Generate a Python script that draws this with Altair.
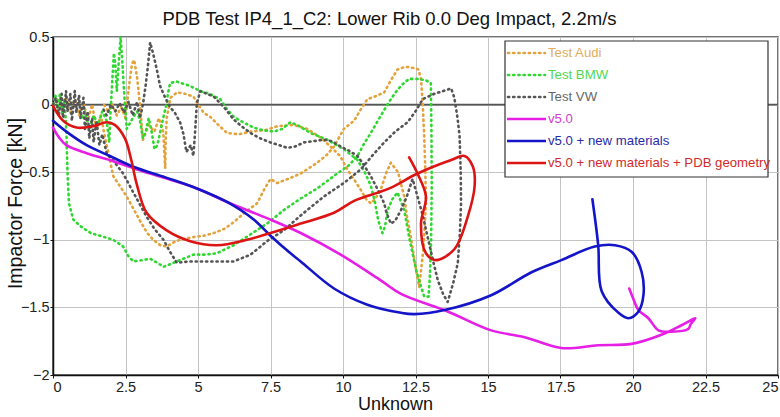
import altair as alt
import pandas as pd

# ---- measured test curves (loading and unloading, in path order) ----
audi_x = [0, 0.15, 0.3, 0.45, 0.6, 0.75, 0.9, 1.05, 1.2, 1.35, 1.5, 1.65, 1.8, 1.95, 2.08, 2.3, 2.54, 2.8, 3.0, 3.25,
          3.46, 3.7, 3.92, 4.15, 4.38, 4.84, 5.2, 5.54, 5.9, 6.23, 6.6, 7.04, 7.3, 7.5, 7.73, 8.1, 8.54, 9.11, 9.45, 9.69,
          10.03, 10.38, 10.6, 10.84, 11.1, 11.42, 11.65, 11.88, 12.15, 12.46, 12.6, 12.69, 12.75, 12.8, 12.84, 12.86,
          12.78, 12.63, 12.5, 12.34, 12.2, 12.11, 11.9, 11.65, 11.5, 11.3, 11.1, 10.96, 10.8, 10.61, 10.4, 10.15, 9.9,
          9.57, 9.2, 8.77, 8.3, 7.73, 7.3, 6.81, 6.4, 6.0, 5.7, 5.42, 5.19, 4.84, 4.55, 4.27, 4.05, 3.92, 3.88, 3.87,
          3.8, 3.65, 3.5, 3.3, 3.1, 3.0, 2.9, 2.8, 2.72, 2.6, 2.5, 2.35, 2.2, 2.05, 1.9, 1.7]
audi_y = [0, 0.05, -0.04, 0.06, -0.06, 0.04, -0.08, 0.02, -0.12, 0.0, -0.18, -0.08, -0.25, -0.4, -0.53, -0.6, -0.68,
          -0.78, -0.86, -0.95, -1.0, -1.04, -1.05, -1.02, -1.0, -0.98, -0.97, -0.95, -0.92, -0.87, -0.8, -0.73, -0.62,
          -0.55, -0.58, -0.55, -0.51, -0.43, -0.37, -0.31, -0.18, -0.12, -0.04, 0.04, 0.06, 0.09, 0.18, 0.26, 0.28,
          0.27, 0.26, 0.19, 0.0, -0.23, -0.5, -0.73, -1.05, -1.35, -1.2, -0.98, -0.82, -0.68, -0.5, -0.43, -0.5, -0.63,
          -0.7, -0.73, -0.7, -0.63, -0.56, -0.48, -0.38, -0.31, -0.24, -0.18, -0.15, -0.16, -0.19, -0.2, -0.22, -0.21,
          -0.15, -0.09, -0.06, 0.06, 0.08, 0.09, 0.05, -0.1, -0.3, -0.47, -0.2, -0.1, -0.2, -0.15, -0.26, 0.0, 0.2,
          0.33, 0.3, 0.1, -0.1, -0.02, -0.08, 0.0, -0.05, 0.02]

bmw_x = [0, 0.08, 0.16, 0.24, 0.32, 0.4, 0.46, 0.5, 0.55, 0.7, 0.95, 1.3, 1.62, 2.08, 2.42, 2.6, 2.77, 3.1, 3.35,
         3.6, 3.81, 4.05, 4.27, 4.84, 5.25, 5.65, 6.23, 6.81, 7.38, 7.96, 8.5, 9.11, 9.8, 10.2, 10.5, 10.75, 10.96,
         11.2, 11.42, 11.65, 11.88, 12.1, 12.28, 12.57, 12.85, 13.03, 13.05, 13.06, 13.04, 13.0, 12.95, 12.8, 12.65,
         12.52, 12.4, 12.28, 12.11, 11.88, 11.7, 11.54, 11.45, 11.36, 11.25, 11.19, 11.1, 10.96, 10.75, 10.5, 10.27,
         10.03, 9.46, 8.88, 8.5, 8.19, 7.9, 7.61, 7.25, 6.92, 6.55, 6.23, 5.95, 5.77, 5.4, 5.08, 4.7, 4.27, 4.04,
         3.96, 3.92, 3.8, 3.7, 3.6, 3.5, 3.4, 3.3, 3.2, 3.1, 3.0, 2.9, 2.75, 2.54, 2.45, 2.38, 2.33, 2.28, 2.2, 2.15,
         2.1, 2.05, 2.0, 1.96, 1.94, 1.85, 1.7, 1.55, 1.4, 1.25, 1.1, 0.95]
bmw_y = [0, 0.07, -0.05, 0.08, -0.08, 0.04, -0.2, -0.5, -0.73, -0.85, -0.9, -0.95, -0.97, -1.0, -1.05, -1.12, -1.16,
         -1.15, -1.14, -1.17, -1.2, -1.18, -1.16, -1.11, -1.11, -1.1, -1.04, -0.96, -0.88, -0.78, -0.7, -0.62, -0.51,
         -0.45, -0.38, -0.28, -0.21, -0.12, -0.04, 0.04, 0.11, 0.16, 0.19, 0.19, 0.18, 0.16, -0.2, -0.6, -1.0, -1.25,
         -1.42, -1.42, -1.32, -1.22, -1.1, -0.98, -0.78, -0.65, -0.7, -0.78, -0.9, -0.95, -0.88, -0.83, -0.72, -0.6,
         -0.5, -0.41, -0.37, -0.33, -0.26, -0.21, -0.16, -0.13, -0.18, -0.2, -0.19, -0.17, -0.13, -0.09, -0.02, 0.04,
         0.08, 0.1, 0.14, 0.17, 0.16, 0.08, 0.01, -0.1, -0.2, -0.3, -0.33, -0.2, -0.1, -0.2, -0.25, -0.12, -0.05, -0.1,
         -0.18, 0.1, 0.35, 0.5, 0.35, 0.1, 0.3, 0.38, 0.2, 0.0, -0.15, -0.28, -0.12, -0.05, -0.15, -0.08, -0.18, -0.05,
         -0.12]

vw_x = [0, 0.1, 0.2, 0.3, 0.35, 0.45, 0.5, 0.6, 0.65, 0.75, 0.8, 0.9, 0.95, 1.05, 1.1, 1.2, 1.25, 1.35, 1.4, 1.5,
        1.6, 1.7, 1.85, 2.1, 2.42, 2.77, 3.0, 3.23, 3.5, 3.81, 4.04, 4.27, 4.7, 5.08, 5.65, 6.23, 6.81, 7.38, 7.96,
        8.54, 9.34, 10.03, 10.61, 11.0, 11.42, 11.8, 12.23, 12.5, 12.75, 13.15, 13.45, 13.73, 13.84, 13.95, 14.02,
        14.06, 14.07, 14.03, 13.96, 13.8, 13.61, 13.45, 13.27, 13.1, 12.92, 12.75, 12.57, 12.4, 12.2, 12.0, 11.8,
        11.65, 11.5, 11.42, 11.2, 10.96, 10.7, 10.5, 10.2, 9.92, 9.6, 9.34, 9.0, 8.65, 8.35, 8.08, 7.8, 7.5, 7.15,
        6.81, 6.5, 6.23, 5.9, 5.54, 5.3, 5.08, 4.96, 4.9, 4.84, 4.75, 4.6, 4.5, 4.38, 4.2, 4.04, 3.85, 3.69, 3.58,
        3.45, 3.35, 3.28, 3.2, 3.1, 3.0, 2.9, 2.75, 2.6, 2.45, 2.3, 2.15, 2.0, 1.85, 1.7]
vw_y = [0, 0.05, -0.08, 0.08, -0.1, 0.1, -0.05, 0.08, -0.12, 0.1, -0.06, 0.07, -0.1, 0.05, -0.18, -0.05, -0.25, -0.1,
        -0.28, -0.12, -0.3, -0.22, -0.36, -0.42, -0.51, -0.65, -0.74, -0.83, -0.92, -1.0, -1.09, -1.17, -1.16, -1.16,
        -1.16, -1.16, -1.11, -1.01, -0.93, -0.82, -0.68, -0.58, -0.48, -0.38, -0.28, -0.2, -0.13, -0.05, 0.04, 0.08,
        0.1, 0.12, 0.05, -0.1, -0.23, -0.5, -0.73, -0.95, -1.17, -1.32, -1.46, -1.4, -1.3, -1.15, -0.98, -0.82, -0.68,
        -0.55, -0.68, -0.78, -0.86, -0.88, -0.8, -0.73, -0.63, -0.53, -0.44, -0.38, -0.34, -0.31, -0.27, -0.26, -0.27,
        -0.28, -0.31, -0.32, -0.3, -0.28, -0.25, -0.21, -0.16, -0.11, -0.02, 0.06, 0.08, 0.1, 0.01, -0.2, -0.38, -0.3,
        -0.35, -0.22, -0.13, -0.06, -0.02, 0.06, 0.14, 0.26, 0.38, 0.46, 0.3, 0.15, 0.0, -0.1, 0.02, -0.08, 0.02,
        -0.06, 0.01, -0.05, 0.0, -0.08, -0.02]

# ---- simulation curves ----
v50_x = [0, 0.2, 0.46, 1.16, 1.95, 2.77, 3.8, 4.96, 6.0, 7.38, 8.54, 9.92, 11.3, 12.0, 13.61, 15.11, 16.26, 17.53,
         18.8, 19.95, 21.0, 21.69, 22.15, 22.0, 21.9, 21.34, 20.88, 20.53, 20.19, 20.0, 19.87]
v50_y = [-0.17, -0.24, -0.3, -0.36, -0.41, -0.47, -0.54, -0.62, -0.72, -0.84, -0.95, -1.11, -1.3, -1.4, -1.53, -1.67,
         -1.72, -1.8, -1.78, -1.77, -1.7, -1.63, -1.58, -1.62, -1.66, -1.68, -1.67, -1.58, -1.52, -1.43, -1.36]

newmat_x = [0, 0.46, 1.16, 1.96, 2.77, 3.9, 4.96, 6.0, 6.92, 7.5, 8.19, 8.54, 9.69, 10.84, 12.0, 12.46, 13.5, 15.11,
            16.5, 17.53, 18.68, 19.38, 19.96, 20.3, 20.36, 20.19, 19.84, 19.5, 18.92, 18.8, 18.6]
newmat_y = [-0.12, -0.2, -0.3, -0.38, -0.46, -0.54, -0.62, -0.72, -0.85, -0.97, -1.1, -1.16, -1.36, -1.48, -1.54,
            -1.55, -1.52, -1.41, -1.24, -1.15, -1.05, -1.04, -1.09, -1.24, -1.41, -1.53, -1.58, -1.54, -1.38, -1.04,
            -0.7]

pdb_x = [0, 0.35, 0.81, 1.38, 1.85, 2.13, 2.48, 2.71, 2.89, 3.23, 3.92, 4.73, 5.65, 6.69, 7.5, 8.54, 9.69, 10.4,
         11.6, 12.57, 13.73, 14.19, 14.48, 14.54, 14.3, 13.84, 13.2, 12.86, 12.69, 12.86, 12.57, 12.28]
pdb_y = [-0.01, -0.12, -0.17, -0.16, -0.13, -0.15, -0.25, -0.42, -0.59, -0.8, -0.93, -1.01, -1.04, -1.0, -0.95,
         -0.88, -0.8, -0.71, -0.62, -0.51, -0.41, -0.38, -0.46, -0.6, -0.83, -1.07, -1.15, -1.1, -0.88, -0.68, -0.51,
         -0.39]

test_names = ["Test Audi", "Test BMW", "Test VW"]
sim_names = ["v5.0", "v5.0 + new materials", "v5.0 + new materials + PDB geometry"]
series_names = test_names + sim_names
line_colors = ["#e3a23a", "#2fd82f", "#555555", "#e61ee6", "#1414c8", "#dd1414"]
label_colors = ["#e2ad5c", "#4fd84f", "#666666", "#d23cd2", "#2a2aa8", "#d02a2a"]

curves = [(audi_x, audi_y), (bmw_x, bmw_y), (vw_x, vw_y),
          (v50_x, v50_y), (newmat_x, newmat_y), (pdb_x, pdb_y)]
frames = []
for name, (xs, ys) in zip(series_names, curves):
    frames.append(pd.DataFrame({"series": name, "x": xs, "y": ys, "i": range(len(xs))}))
df = pd.concat(frames, ignore_index=True)

font = "Liberation Sans, Arial"
color_scale = alt.Scale(domain=series_names, range=line_colors)

x_enc = alt.X("x:Q", title="Unknown",
              scale=alt.Scale(domain=[0, 25], nice=False, zero=False),
              axis=alt.Axis(values=[0, 2.5, 5, 7.5, 10, 12.5, 15, 17.5, 20, 22.5, 25],
                            format=".1~f", titleX=342))
y_scale = alt.Scale(domain=[-2, 0.5], nice=False, zero=False)
y_enc = alt.Y("y:Q", title="Impactor Force [kN]", scale=y_scale,
              axis=alt.Axis(values=[-2, -1.5, -1, -0.5, 0, 0.5], format=".1~f",
                            titleX=-28, titleY=166, titleFontSize=19.5))

base = alt.Chart(df)
tests = base.transform_filter(
    alt.FieldOneOfPredicate(field="series", oneOf=test_names)
).mark_line(strokeWidth=2.6, strokeCap="round", strokeJoin="round", strokeDash=[1.2, 4]).encode(
    x=x_enc, y=y_enc, order="i:Q",
    color=alt.Color("series:N", scale=color_scale, legend=None),
)
sims = base.transform_filter(
    alt.FieldOneOfPredicate(field="series", oneOf=sim_names)
).mark_line(strokeWidth=2.6, strokeCap="round", strokeJoin="round", interpolate="catmull-rom").encode(
    x=x_enc, y=y_enc, order="i:Q",
    color=alt.Color("series:N", scale=color_scale, legend=None),
)

zero_line = alt.Chart(pd.DataFrame({"y": [0]})).mark_rule(color="#555555", strokeWidth=1.6).encode(
    y=alt.Y("y:Q", scale=y_scale)
)

plot = alt.layer(zero_line, tests, sims)

# ---- legend box in the upper right of the plot ----
leg_df = pd.DataFrame({"series": series_names, "tc": label_colors, "lc": line_colors,
                       "kind": ["test"] * 3 + ["sim"] * 3})
leg_y = alt.Y("series:N", scale=alt.Scale(type="point", domain=series_names, range=[16, 126], padding=0),
              axis=None)
leg_box = alt.Chart(pd.DataFrame({"k": [0]})).mark_rect(
    fill="white", stroke="#333333", strokeWidth=1.2
).encode(x=alt.value(452), x2=alt.value(715), y=alt.value(4), y2=alt.value(140))
leg_dots = alt.Chart(leg_df).transform_filter("datum.kind == 'test'").mark_rule(
    strokeWidth=2.6, strokeCap="round", strokeDash=[1.2, 4]
).encode(x=alt.value(455), x2=alt.value(492), y=leg_y, color=alt.Color("lc:N", scale=None))
leg_solid = alt.Chart(leg_df).transform_filter("datum.kind == 'sim'").mark_rule(
    strokeWidth=2.6
).encode(x=alt.value(454), x2=alt.value(493), y=leg_y, color=alt.Color("lc:N", scale=None))
leg_text = alt.Chart(leg_df).mark_text(
    align="left", baseline="middle", font=font, fontSize=13.2
).encode(x=alt.value(495), y=leg_y, text="series:N", color=alt.Color("tc:N", scale=None))
legend = alt.layer(leg_box, leg_dots, leg_solid, leg_text)

chart = alt.layer(plot, legend).resolve_scale(y="independent", color="independent").properties(
    width=725, height=338,
    title=alt.TitleParams("PDB Test IP4_1_C2: Lower Rib 0.0 Deg Impact, 2.2m/s",
                          font=font, fontSize=18.5, fontWeight="normal", color="#111111",
                          anchor="middle", dx=-26, offset=1),
    autosize=alt.AutoSizeParams(type="none"),
    padding={"left": 53, "top": 37, "right": 2, "bottom": 42},
).configure_view(
    stroke="#444444", strokeWidth=1.5
).configure_axis(
    grid=True, gridColor="#c4c4c4", gridWidth=1,
    domainColor="#111111", domainWidth=1.5,
    tickColor="#111111", tickSize=3,
    labelFont=font, labelFontSize=14.5, labelColor="#222222", labelPadding=1,
    titleFont=font, titleFontSize=18, titleFontWeight="normal", titleColor="#111111",
).configure_axisX(
    titlePadding=2, labelPadding=2
)

chart.save("out.html", embed_options={"renderer": "svg", "actions": False})
